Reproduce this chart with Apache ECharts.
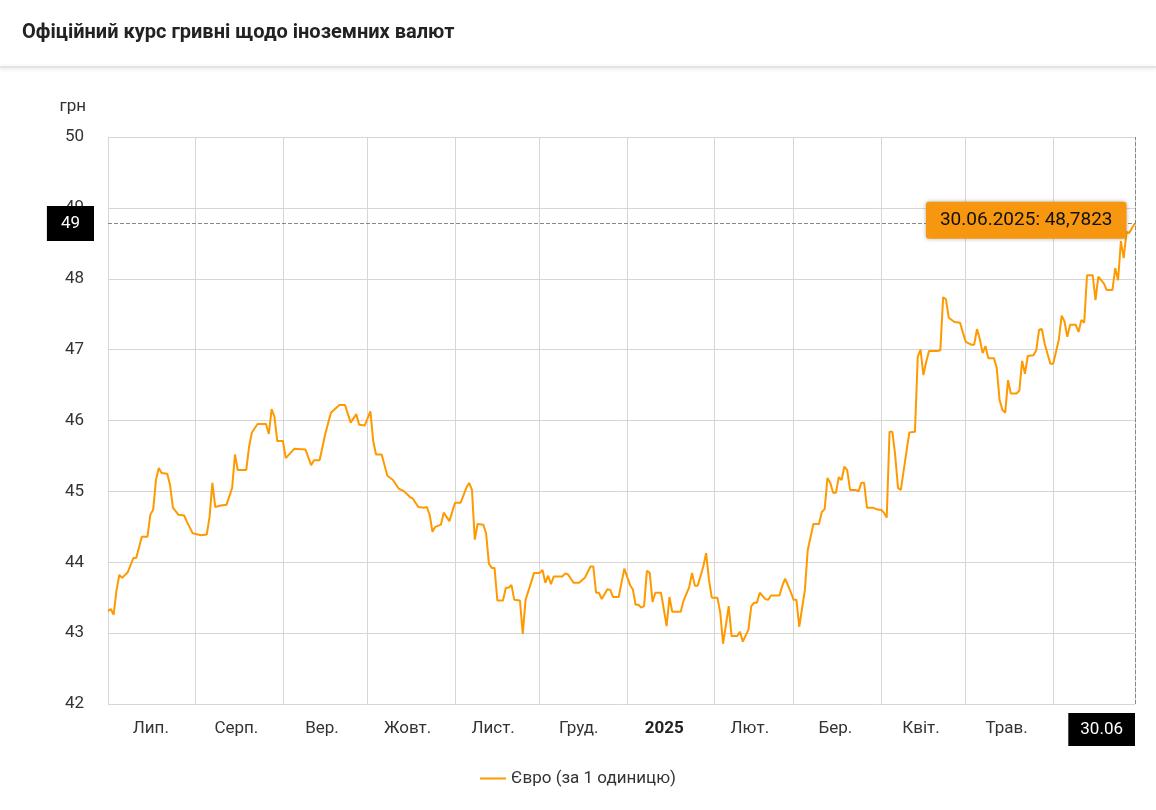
<!DOCTYPE html>
<html><head><meta charset="utf-8">
<script src="https://cdn.jsdelivr.net/npm/echarts@6/dist/echarts.min.js"></script>
<style>html,body{margin:0;padding:0;background:#fff}#c{width:1156px;height:810px}</style>
</head><body><div id="c"></div>
<script>
const startDate = '2024-07-01';
const monthLabels = ['Лип.','Серп.','Вер.','Жовт.','Лист.','Груд.','2025','Лют.','Бер.','Квіт.','Трав.',''];
const yTicks = [42,43,44,45,46,47,48,49,50];
// day offsets from 2024-07-01
const dayOffsets = [0,1,2,3,4,5,7,9,10,12,14,15,16,17,18,19,21,22,23,25,27,28,30,33,35,36,37,38,40,42,44,45,46,49,50,51,53,56,57,58,59,60,62,63,66,70,72,73,75,77,79,82,84,86,88,89,91,93,94,95,97,99,101,103,105,107,108,110,112,113,114,115,116,118,119,121,123,125,127,128,129,130,131,133,134,135,136,137,138,140,141,142,143,144,146,147,148,150,151,153,154,155,156,157,158,161,162,163,165,167,169,171,172,173,174,175,177,178,179,181,183,185,186,187,188,189,190,191,192,193,194,196,198,199,200,203,204,206,207,208,209,211,212,213,214,216,217,218,220,221,223,224,225,227,228,229,230,231,233,234,235,238,239,240,242,243,244,245,247,248,250,252,253,254,255,256,257,258,259,260,261,262,263,265,266,267,268,269,271,273,274,275,276,277,278,279,280,281,283,284,286,287,288,289,290,291,294,295,296,297,298,300,302,303,304,306,307,308,309,310,311,312,314,315,316,317,318,319,320,322,323,324,325,326,328,329,330,331,332,334,335,337,338,339,340,341,343,344,345,346,347,349,350,351,353,354,356,357,358,359,360,361,362,363,364];
const eurRates = [43.31,43.34,43.26,43.6,43.82,43.78,43.86,44.06,44.06,44.36,44.36,44.67,44.74,45.16,45.33,45.26,45.25,45.09,44.77,44.67,44.66,44.57,44.41,44.38,44.39,44.64,45.12,44.78,44.8,44.81,45.05,45.52,45.3,45.3,45.63,45.83,45.95,45.95,45.81,46.16,46.05,45.71,45.71,45.47,45.6,45.59,45.37,45.44,45.44,45.81,46.11,46.22,46.22,45.97,46.09,45.94,45.93,46.13,45.71,45.52,45.52,45.22,45.16,45.04,45.0,44.92,44.9,44.78,44.77,44.78,44.67,44.43,44.5,44.53,44.7,44.58,44.84,44.84,45.05,45.12,45.02,44.32,44.54,44.53,44.41,43.98,43.92,43.92,43.46,43.46,43.64,43.64,43.68,43.47,43.46,42.99,43.47,43.72,43.85,43.85,43.89,43.71,43.81,43.69,43.8,43.8,43.84,43.83,43.71,43.71,43.78,43.94,43.94,43.57,43.57,43.48,43.62,43.61,43.51,43.51,43.91,43.68,43.62,43.4,43.4,43.36,43.38,43.88,43.85,43.44,43.57,43.57,43.1,43.51,43.3,43.3,43.46,43.65,43.85,43.67,43.67,43.94,44.13,43.75,43.5,43.5,43.29,42.85,43.38,42.96,42.96,43.02,42.88,43.05,43.38,43.43,43.43,43.57,43.48,43.47,43.53,43.53,43.67,43.77,43.58,43.47,43.47,43.09,43.61,44.17,44.54,44.54,44.71,44.75,45.19,45.12,44.98,44.98,45.2,45.16,45.35,45.3,45.02,45.02,45.0,45.12,45.12,44.77,44.77,44.74,44.74,44.7,44.63,45.84,45.84,45.51,45.05,45.02,45.56,45.83,45.84,46.9,47.0,46.64,46.83,46.98,46.98,46.99,47.74,47.71,47.45,47.39,47.38,47.24,47.11,47.07,47.07,47.29,47.15,46.95,47.05,46.88,46.88,46.74,46.29,46.15,46.11,46.57,46.38,46.38,46.42,46.84,46.66,46.91,46.92,46.99,47.28,47.29,47.08,46.8,46.8,47.14,47.48,47.4,47.18,47.35,47.35,47.25,47.42,47.38,48.05,48.05,47.70,48.03,47.93,47.84,47.84,48.15,47.98,48.53,48.29,48.66,48.65,48.72,48.7823];
const seriesName = 'Євро (за 1 одиницю)';

const DAY = 86400000;
const t0 = Date.parse(startDate + 'T00:00:00Z');
const points = dayOffsets.map((d, i) => [t0 + d * DAY, eurRates[i]]);
const last = points[points.length - 1];
const tMax = t0 + 364 * DAY;
const fmtDate = t => { const d = new Date(t); const p = n => String(n).padStart(2,'0'); return p(d.getUTCDate()) + '.' + p(d.getUTCMonth()+1); };
const font = 'Roboto';

const chart = echarts.init(document.getElementById('c'));
chart.setOption({
  animation: false,
  textStyle: { fontFamily: font },
  title: { text: 'Офіційний курс гривні щодо іноземних валют', left: 17, top: 18,
    textStyle: { fontSize: 20, fontWeight: 'bold', color: '#222', fontFamily: font } },
  graphic: [{ type: 'rect', left: 0, top: 66, shape: { width: 1156, height: 2 },
    style: { fill: '#e4e4e4', shadowBlur: 4, shadowColor: 'rgba(0,0,0,0.15)', shadowOffsetY: 1 } }],
  legend: { bottom: 18, left: 'center', itemWidth: 26, itemHeight: 14,
    textStyle: { fontSize: 17, color: '#333', fontFamily: font },
    data: [{ name: seriesName, icon: 'path://M0,6 L26,6 L26,8 L0,8 Z' }] },
  grid: { left: 108, right: 21, top: 137, bottom: 106 },
  xAxis: [{
    type: 'time', min: t0, max: tMax, minInterval: 28 * DAY, maxInterval: 31 * DAY,
    axisLine: { show: false }, axisTick: { show: false }, axisLabel: { show: false },
    splitLine: { show: true, lineStyle: { color: '#d6d6d6', width: 1 } }
  }, {
    type: 'category', data: monthLabels, boundaryGap: true, position: 'bottom',
    axisLine: { show: false }, axisTick: { show: false }, splitLine: { show: false },
    axisLabel: { fontSize: 17, color: '#333', margin: 16, fontFamily: font,
      formatter: v => v === '2025' ? '{b|2025}' : v, rich: { b: { fontWeight: 'bold', fontSize: 17, color: '#222' } } }
  }],
  yAxis: {
    type: 'value', min: yTicks[0], max: yTicks[yTicks.length-1], interval: 1,
    name: 'грн', nameLocation: 'end', nameGap: 22,
    nameTextStyle: { fontSize: 17, color: '#333', align: 'right', padding: [0, 22, 0, 0] },
    axisLine: { show: false }, axisTick: { show: false },
    axisLabel: { fontSize: 17, color: '#333', margin: 24 },
    splitLine: { lineStyle: { color: '#d6d6d6' } }
  },
  series: [{
    name: seriesName, type: 'line', xAxisIndex: 0, data: points, showSymbol: false,
    lineStyle: { color: '#ff9900', width: 2 }, itemStyle: { color: '#ff9900' },
    markLine: {
      silent: true, symbol: 'none',
      lineStyle: { color: '#888', type: 'dashed', width: 1 },
      data: [
        { yAxis: last[1], label: { show: true, position: 'start', formatter: () => String(Math.round(last[1])),
            backgroundColor: '#000', color: '#fff', fontSize: 17, padding: [9, 14], distance: 14 } },
        { xAxis: last[0], label: { show: true, position: 'start', formatter: () => fmtDate(last[0]),
            align: 'right', verticalAlign: 'top',
            backgroundColor: '#000', color: '#fff', fontSize: 17, padding: [8, 12], distance: 9, rotate: 0 } }
      ]
    },
    markPoint: {
      symbol: 'circle', symbolSize: 1,
      data: [{ coord: last, value: last[1] }],
      label: { show: true, position: 'left', distance: 8,
        formatter: () => '30.06.2025: ' + last[1].toFixed(4).replace('.', ','),
        backgroundColor: '#f7960f', color: '#111', fontSize: 19, padding: [9, 14],
        borderRadius: 3, shadowBlur: 4, shadowColor: 'rgba(0,0,0,0.3)', offset: [0, -3] }
    }
  }]
});
</script></body></html>
